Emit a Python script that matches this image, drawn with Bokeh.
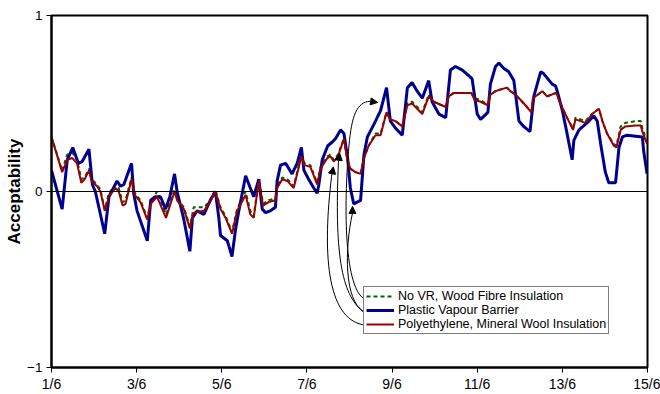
from bokeh.plotting import figure
from bokeh.models import Range1d, FixedTicker, Span, Legend, LegendItem, Arrow, NormalHead
from bokeh.embed import file_html
from bokeh.resources import INLINE

# ---------------- data ----------------
tick_values = [1, 3, 5, 7, 9, 11, 13, 15]
tick_labels = ["1/6", "3/6", "5/6", "7/6", "9/6", "11/6", "13/6", "15/6"]
y_ticks = [-1, 0, 1]

blue_day = [1.00, 1.25, 1.37, 1.50, 1.63, 1.72, 1.88, 1.96, 2.03, 2.25, 2.35, 2.54, 2.62, 2.70,
            2.88, 2.93, 3.01, 3.25, 3.33, 3.44, 3.56, 3.68, 3.78, 3.89, 3.95, 4.11, 4.25, 4.31,
            4.42, 4.58, 4.73, 4.85, 4.93, 4.97, 5.13, 5.24, 5.32, 5.40, 5.56, 5.67, 5.75, 5.87,
            5.95, 6.03, 6.14, 6.26, 6.30, 6.38, 6.50, 6.65, 6.77, 6.87, 6.93, 7.04, 7.16, 7.24,
            7.28, 7.36, 7.49, 7.59, 7.67, 7.79, 7.87, 7.96, 8.02, 8.10, 8.26, 8.34, 8.42, 8.57,
            8.73, 8.87, 8.96, 9.08, 9.24, 9.36, 9.47, 9.59, 9.71, 9.86, 9.94, 10.10, 10.26, 10.37,
            10.49, 10.65, 10.84, 10.88, 11.00, 11.08, 11.25, 11.31, 11.43, 11.51, 11.62, 11.74,
            11.86, 11.98, 12.09, 12.24, 12.33, 12.49, 12.56, 12.76, 12.84, 12.88, 13.00, 13.11,
            13.23, 13.27, 13.39, 13.58, 13.74, 13.82, 13.90, 14.01, 14.09, 14.25, 14.33, 14.41,
            14.52, 14.88, 14.91, 14.99]
blue_val = [0.12, -0.10, 0.18, 0.25, 0.16, 0.17, 0.24, 0.04, 0.00, -0.24, -0.03, 0.06, 0.03, 0.04,
            0.16, -0.01, -0.11, -0.28, -0.05, -0.03, -0.03, -0.10, -0.03, 0.10, 0.00, -0.16, -0.34, -0.15,
            -0.11, -0.13, -0.05, 0.00, -0.15, -0.25, -0.28, -0.37, -0.22, -0.11, 0.09, 0.02, -0.03, 0.07,
            -0.10, -0.12, -0.11, -0.09, 0.06, 0.15, 0.16, 0.10, 0.16, 0.25, 0.12, 0.07, 0.02, -0.01,
            0.04, 0.18, 0.26, 0.28, 0.30, 0.35, 0.33, 0.18, 0.02, -0.07, -0.05, 0.21, 0.31, 0.38,
            0.46, 0.59, 0.40, 0.36, 0.32, 0.59, 0.62, 0.57, 0.53, 0.63, 0.51, 0.44, 0.42, 0.69,
            0.71, 0.69, 0.65, 0.64, 0.44, 0.41, 0.45, 0.61, 0.71, 0.73, 0.70, 0.68,
            0.63, 0.40, 0.37, 0.34, 0.54, 0.68, 0.67, 0.61, 0.60, 0.57, 0.46, 0.33,
            0.18, 0.29, 0.35, 0.39, 0.43, 0.40, 0.27, 0.11, 0.05, 0.05, 0.25, 0.31,
            0.32, 0.31, 0.23, 0.10]

red_day = [1.00, 1.25, 1.37, 1.49, 1.60, 1.70, 1.78, 1.88, 1.94, 2.07, 2.15, 2.25, 2.35, 2.50,
           2.58, 2.67, 2.74, 2.88, 2.96, 3.09, 3.25, 3.33, 3.48, 3.69, 3.89, 3.95, 4.11, 4.25,
           4.34, 4.58, 4.70, 4.85, 4.97, 5.09, 5.24, 5.36, 5.56, 5.67, 5.75, 5.87, 5.97, 6.10,
           6.26, 6.30, 6.42, 6.54, 6.69, 6.87, 6.94, 7.08, 7.24, 7.32, 7.48, 7.55, 7.63, 7.73,
           7.87, 7.95, 8.02, 8.14, 8.26, 8.34, 8.45, 8.61, 8.73, 8.87, 8.95, 9.08, 9.24, 9.36,
           9.47, 9.59, 9.71, 9.86, 9.98, 10.26, 10.33, 10.45, 10.86, 10.94, 11.08, 11.25, 11.31,
           11.43, 11.55, 11.70, 11.78, 11.90, 12.02, 12.17, 12.27, 12.31, 12.45, 12.53, 12.64,
           12.79, 12.86, 12.92, 13.03, 13.15, 13.25, 13.31, 13.54, 13.70, 13.86, 13.94, 14.05,
           14.21, 14.27, 14.37, 14.48, 14.72, 14.84, 14.88, 14.99]
red_val = [0.31, 0.11, 0.18, 0.19, 0.16, 0.05, 0.07, 0.12, 0.06, 0.03, 0.00, -0.11, -0.03, 0.02,
           0.00, -0.08, -0.07, 0.07, -0.02, -0.06, -0.16, -0.07, -0.03, -0.15, 0.00, -0.05, -0.10, -0.21,
           -0.12, -0.11, -0.07, 0.00, -0.10, -0.15, -0.24, -0.11, -0.02, -0.13, -0.15, 0.06, -0.08, -0.06,
           -0.05, 0.02, 0.07, 0.06, 0.02, 0.20, 0.15, 0.14, 0.04, 0.13, 0.19, 0.20, 0.17, 0.20,
           0.30, 0.18, 0.13, 0.11, 0.10, 0.19, 0.26, 0.32, 0.32, 0.45, 0.41, 0.40, 0.37, 0.49,
           0.50, 0.47, 0.44, 0.54, 0.51, 0.48, 0.54, 0.56, 0.56, 0.52, 0.51, 0.49, 0.55,
           0.57, 0.58, 0.59, 0.57, 0.55, 0.52, 0.48, 0.45, 0.53, 0.555, 0.57, 0.54,
           0.555, 0.56, 0.52, 0.46, 0.40, 0.35, 0.41, 0.39, 0.44, 0.47, 0.40, 0.33,
           0.26, 0.25, 0.35, 0.37, 0.375, 0.375, 0.34, 0.27]
green_val = [0.31, 0.12, 0.21, 0.22, 0.18, 0.07, 0.08, 0.13, 0.07, 0.04, 0.01, -0.10, -0.01, 0.04,
             0.02, -0.06, -0.05, 0.08, -0.01, -0.05, -0.15, -0.06, 0.00, -0.13, 0.01, -0.04, -0.09, -0.20,
             -0.09, -0.09, -0.06, 0.01, -0.09, -0.14, -0.23, -0.10, 0.00, -0.11, -0.14, 0.07, -0.07, -0.05,
             -0.04, 0.03, 0.08, 0.07, 0.03, 0.21, 0.16, 0.15, 0.05, 0.14, 0.20, 0.21, 0.18, 0.21,
             0.30, 0.18, 0.13, 0.11, 0.10, 0.19, 0.26, 0.33, 0.33, 0.45, 0.41, 0.40, 0.37, 0.50,
             0.51, 0.48, 0.45, 0.55, 0.51, 0.48, 0.54, 0.56, 0.56, 0.53, 0.52, 0.49, 0.55,
             0.57, 0.58, 0.59, 0.57, 0.55, 0.52, 0.48, 0.45, 0.53, 0.555, 0.57, 0.54,
             0.555, 0.56, 0.52, 0.46, 0.40, 0.36, 0.42, 0.40, 0.44, 0.47, 0.40, 0.33,
             0.27, 0.26, 0.37, 0.39, 0.40, 0.40, 0.36, 0.28]

series_names = ["No VR, Wood Fibre Insulation", "Plastic Vapour Barrier",
                "Polyethylene, Mineral Wool Insulation"]

# annotation callout curves (day, value): start, control1, control2, end
curve_x0 = [8.33, 8.00, 8.33, 8.33, 8.33]
curve_y0 = [-0.607, 0.291, -0.683, -0.683, -0.758]
curve_cx0 = [7.86, 8.07, 7.88, 7.79, 7.44]
curve_cy0 = [-0.532, 0.450, -0.617, -0.588, -0.719]
curve_cx1 = [7.86, 8.21, 7.88, 7.65, 7.37]
curve_cy1 = [-0.049, 0.518, -0.333, -0.333, -0.333]
curve_x1 = [8.00, 8.54, 8.07, 7.74, 7.58]
curve_y1 = [0.291, 0.512, -0.123, 0.166, 0.087]
arrow_xs = [8.50, 8.07, 7.74, 7.58]
arrow_ys = [0.512, -0.123, 0.166, 0.087]
arrow_xe = [8.66, 8.07, 7.77, 7.62]
arrow_ye = [0.506, -0.085, 0.217, 0.140]

# ---------------- figure ----------------
FONT = "Liberation Sans"
p = figure(width=660, height=394, x_range=Range1d(1, 15), y_range=Range1d(-1, 1),
           output_backend="svg", toolbar_location=None,
           min_border_left=51, min_border_right=13, min_border_top=15, min_border_bottom=26)
p.background_fill_color = "white"
p.border_fill_color = "white"
p.outline_line_color = "black"
p.outline_line_width = 2
p.xgrid.visible = False
p.ygrid.visible = False

for ax in (p.xaxis[0], p.yaxis[0]):
    ax.axis_line_width = 2
    ax.axis_line_color = "black"
    ax.major_tick_in = 0
    ax.major_tick_out = 5
    ax.minor_tick_out = 0
    ax.minor_tick_in = 0
    ax.major_label_text_font = FONT
    ax.major_label_text_color = "black"

p.xaxis.major_label_text_font_size = "14px"
p.xaxis.major_label_standoff = 3
p.yaxis.major_label_text_font_size = "13.5px"
p.yaxis.major_label_standoff = 4

p.xaxis.ticker = FixedTicker(ticks=tick_values)
p.xaxis.major_label_overrides = {v: l for v, l in zip(tick_values, tick_labels)}
p.yaxis.ticker = FixedTicker(ticks=y_ticks)
p.yaxis.axis_label = "Acceptability"
p.yaxis.axis_label_text_font = FONT
p.yaxis.axis_label_text_font_style = "bold"
p.yaxis.axis_label_text_font_size = "17px"
p.yaxis.axis_label_text_color = "black"
p.yaxis.axis_label_standoff = 0

p.add_layout(Span(location=0, dimension="width", line_color="black", line_width=1))

r_green = p.line(red_day, green_val, line_color="#006400", line_width=2, line_dash="4 3")
r_blue = p.line(blue_day, blue_val, line_color="#000090", line_width=3)
r_red = p.line(red_day, red_val, line_color="#990000", line_width=2)

p.bezier(x0=curve_x0, y0=curve_y0, x1=curve_x1, y1=curve_y1,
         cx0=curve_cx0, cy0=curve_cy0, cx1=curve_cx1, cy1=curve_cy1,
         line_color="black", line_width=1)
for xs, ys, xe, ye in zip(arrow_xs, arrow_ys, arrow_xe, arrow_ye):
    p.add_layout(Arrow(x_start=xs, y_start=ys, x_end=xe, y_end=ye, line_color="black", line_width=1,
                       end=NormalHead(size=7, fill_color="black", line_color="black")))

legend = Legend(items=[LegendItem(label=series_names[0], renderers=[r_green]),
                       LegendItem(label=series_names[1], renderers=[r_blue]),
                       LegendItem(label=series_names[2], renderers=[r_red])],
                location=(312, 33))
legend.label_text_font = FONT
legend.label_text_font_size = "12.5px"
legend.label_text_color = "black"
legend.label_text_line_height = 1.0
legend.glyph_width = 28
legend.glyph_height = 12
legend.label_height = 12
legend.label_standoff = 4
legend.spacing = 0
legend.padding = 2
legend.margin = 0
legend.border_line_color = "black"
legend.border_line_width = 1
legend.background_fill_color = "white"
legend.background_fill_alpha = 1
p.add_layout(legend, "center")

open("out.html", "w").write(file_html(p, INLINE))
